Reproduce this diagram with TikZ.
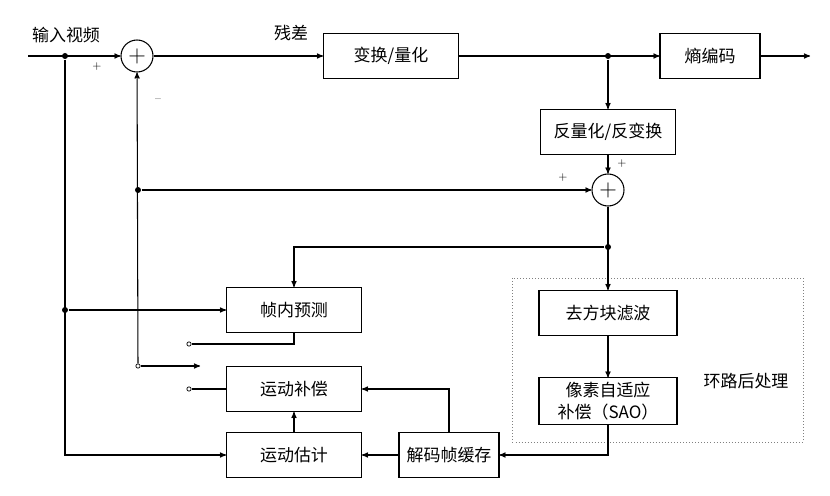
\documentclass[tikz,border=0pt]{standalone}
\usepackage{fontspec}
\newfontfamily\cjk{Noto Sans CJK SC}
\usetikzlibrary{arrows}
\usetikzlibrary{positioning}

\begin{document}
\begin{tikzpicture}[x=0.3mm,y=-0.3mm,->,>=stealth',line width=0.9pt,
  font=\cjk\fontsize{14.5}{19}\selectfont,
  block node/.style={rectangle,draw,minimum width=40.5mm,minimum height=13.5mm,align=center},
  sum node/.style={circle,draw,minimum size=9.6mm,inner sep=0pt,font=\fontsize{20}{20}\selectfont},
  dot node/.style={circle,fill,inner sep=0pt,minimum size=1.8mm},
  port node/.style={circle,draw,fill=white,inner sep=0pt,minimum size=1.3mm,line width=0.6pt},
  sign/.style={font=\fontsize{10}{10}\selectfont}]
\useasboundingbox (0,0) rectangle (830,496);
%------------------------------------------------------------------------
% The blocks
%------------------------------------------------------------------------
\node[sum node] (S1) at (137,56) {$+$};
\node[block node] (TQ) at (391,56) {变换/量化};
\node[block node,minimum width=30mm] (EC) at (710,56) {熵编码};
\node[block node] (IQ) at (608,132) {反量化/反变换};
\node[sum node] (S2) at (608,190) {$+$};
\node[block node,minimum width=41.4mm] (DB) at (608,313) {去方块滤波};
\node[block node,minimum width=41.4mm] (SAO) at (608,401) {像素自适应\\补偿（SAO）};
\node[block node] (IP) at (294,310) {帧内预测};
\node[block node] (MC) at (294,389) {运动补偿};
\node[block node] (ME) at (294,455) {运动估计};
\node[block node,minimum width=30mm] (DF) at (449,455) {解码帧缓存};
%------------------------------------------------------------------------
% Branch points, ports and labels
%------------------------------------------------------------------------
\coordinate (in) at (28,56);
\coordinate (out) at (810,56);
\node[dot node] (d0) at (65,56) {};
\node[dot node] (d1) at (608,56) {};
\node[dot node] (d2) at (608,247) {};
\node[dot node] (d3) at (138,190) {};
\node[dot node] (d4) at (65,310) {};
\node[port node] (p0) at (138,366) {};
\node[port node] (p1) at (189,344) {};
\node[port node] (p2) at (189,389) {};
\coordinate (sw) at (200,366);
\node (lin) at (66,35) {输入视频};
\node (lres) at (291,33) {残差};
\node (lloop) at (746,381) {环路后处理};
\node[sign] (pl1) at (97,67) {+};
\node[sign] (mi1) at (158,101) {--};
\node[sign] (pl2) at (622,164) {+};
\node[sign] (pl3) at (563,178) {+};
\draw[-,dotted,line width=0.6pt,gray] (512,278) rectangle (803,442);
%------------------------------------------------------------------------
% The connectors
%------------------------------------------------------------------------
\draw (in) -- (S1);
\draw (S1) -- (TQ);
\draw (TQ) -- (EC);
\draw (EC) -- (out);
\draw (d1) -- (IQ);
\draw (IQ) -- (S2);
\draw (d3) -- (S2);
\draw (S2) -- (DB);
\draw (d2) -| (IP);
\draw (DB) -- (SAO);
\draw (SAO) |- (DF);
\draw (DF.north) |- (MC);
\draw (DF) -- (ME);
\draw (ME) -- (MC);
\draw (d0) |- (ME);
\draw (d4) -- (IP);
\draw (p0) -- (S1);
\draw (p0) -- (sw);
\draw[-] (IP) |- (p1);
\draw[-] (MC) -- (p2);

\end{tikzpicture}
\end{document}
